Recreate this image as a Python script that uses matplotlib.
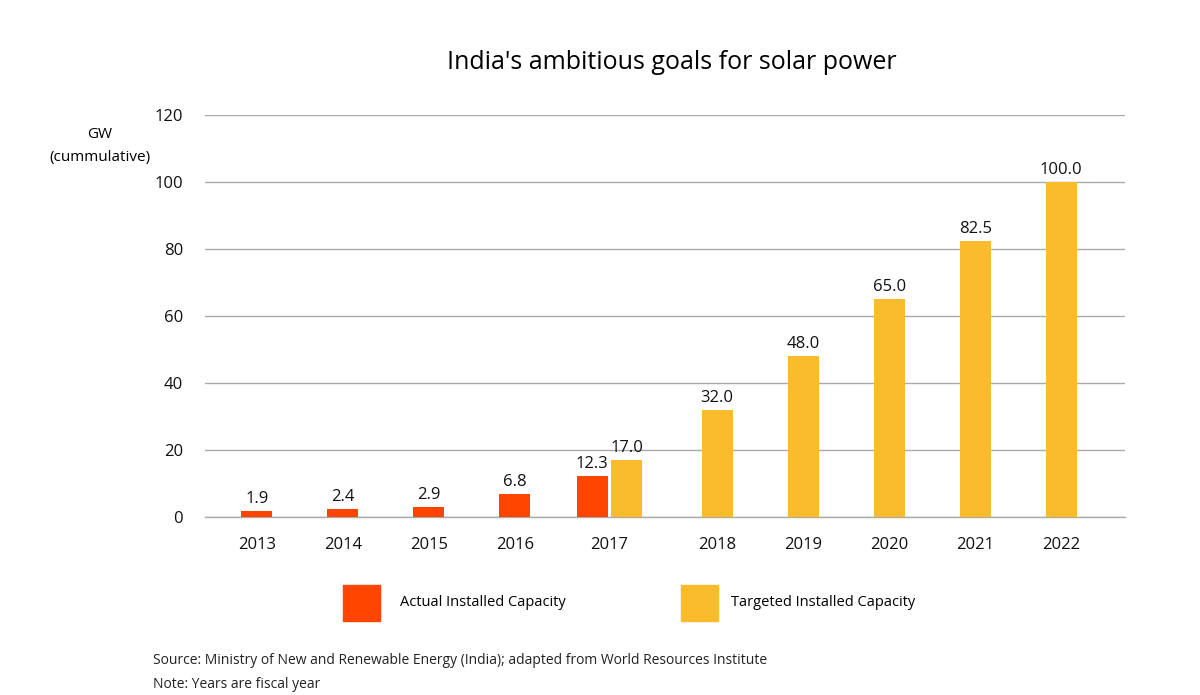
import numpy as np
import matplotlib.pyplot as plt
from matplotlib.patches import Rectangle

plt.rcParams['font.family'] = ['Open Sans', 'DejaVu Sans']

years = ['2013', '2014', '2015', '2016', '2017', '2018', '2019', '2020', '2021', '2022']
actual_years = ['2013', '2014', '2015', '2016', '2017']
actual = [1.9, 2.4, 2.9, 6.8, 12.3]
target_years = ['2017', '2018', '2019', '2020', '2021', '2022']
target = [17.0, 32.0, 48.0, 65.0, 82.5, 100.0]
yticks = [0, 20, 40, 60, 80, 100, 120]

red = '#ff4500'
yellow = '#fbbc2c'

# category centres; 2017 holds two bars so it gets a bit more room
pos = {}
for i, y in enumerate(years):
    if i < 4:
        pos[y] = i
    elif i == 4:
        pos[y] = 4.1
    else:
        pos[y] = i + 0.35

w = 0.36
fig = plt.figure(figsize=(12, 6.95), dpi=100)
ax = fig.add_axes([0.171, 0.256, 0.7665, 0.5785])

ax_x = []
for y in actual_years:
    x = pos[y] - w / 2 - 0.02 if y in target_years else pos[y]
    ax_x.append(x)
tx = []
for y in target_years:
    x = pos[y] + w / 2 + 0.02 if y in actual_years else pos[y]
    tx.append(x)

ax.bar(ax_x, actual, width=w, color=red, zorder=3)
ax.bar(tx, target, width=w, color=yellow, zorder=3)

for x, v in zip(ax_x, actual):
    ax.text(x, v + 1.2, f'{v:.1f}', ha='center', va='bottom', fontsize=12, color='#111111')
for x, v in zip(tx, target):
    ax.text(x, v + 1.2, f'{v:.1f}', ha='center', va='bottom', fontsize=12, color='#111111')

ax.set_xlim(-0.6, 10.09)
ax.set_ylim(0, 120)
ax.set_yticks(yticks)
ax.set_yticklabels([str(t) for t in yticks], fontsize=12)
ax.set_xticks([pos[y] for y in years])
ax.set_xticklabels(years, fontsize=12)
ax.tick_params(axis='both', length=0, colors='#111111')
ax.tick_params(axis='x', pad=14)
ax.tick_params(axis='y', pad=16)
ax.grid(axis='y', color='#aaaaaa', linewidth=1, zorder=0)
ax.axhline(0, color='#aaaaaa', linewidth=1, zorder=1, clip_on=False)
ax.set_axisbelow(True)
for s in ax.spines.values():
    s.set_visible(False)

fig.text(0.56, 0.91, "India's ambitious goals for solar power", ha='center', va='center', fontsize=18)
fig.text(0.083, 0.79, 'GW\n(cummulative)', ha='center', va='center', fontsize=11, linespacing=1.8)

# legend
fig.patches.append(Rectangle((343 / 1200, 1 - 621 / 695), 37 / 1200, 36 / 695,
                             transform=fig.transFigure, color=red))
fig.text(400 / 1200, 1 - 603 / 695, 'Actual Installed Capacity', va='center', fontsize=10.5)
fig.patches.append(Rectangle((681 / 1200, 1 - 621 / 695), 37 / 1200, 36 / 695,
                             transform=fig.transFigure, color=yellow))
fig.text(731 / 1200, 1 - 603 / 695, 'Targeted Installed Capacity', va='center', fontsize=10.5)

fig.text(153 / 1200, 1 - 660 / 695, 'Source: Ministry of New and Renewable Energy (India); adapted from World Resources Institute',
         va='center', fontsize=10, color='#222222')
fig.text(153 / 1200, 1 - 685 / 695, 'Note: Years are fiscal year', va='center', fontsize=10, color='#222222')

fig.savefig('out.png', dpi=100)
